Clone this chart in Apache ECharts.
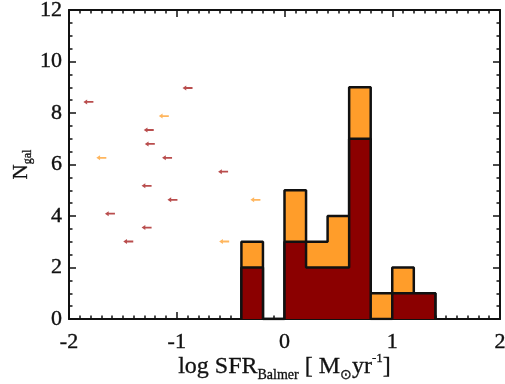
<!DOCTYPE html>
<html><head><meta charset="utf-8">
<script src="https://cdn.jsdelivr.net/npm/echarts@6/dist/echarts.min.js"></script>
<style>html,body{margin:0;padding:0;background:#fff}#c{width:505px;height:384px}</style>
</head><body><div id="c"></div>
<script>
// Histogram bins (left edges, width 0.2 dex)
const binLeft   = [-0.4, -0.2, 0.0, 0.2, 0.4, 0.6, 0.8, 1.0, 1.2];
const binRight  = 1.4;
const totalCounts = [3, 0, 5, 3, 4, 9, 1, 2, 1];
const darkCounts  = [2, 0, 3, 2, 2, 7, 0, 1, 1];
// Upper limit arrows (log SFR, N position)
const limDarkX = [-0.90, -1.82, -1.26, -1.25, -1.09, -0.57, -1.28, -1.04, -1.62, -1.28, -1.45];
const limDarkY = [8.97, 8.43, 7.34, 6.80, 6.26, 5.72, 5.17, 4.63, 4.09, 3.55, 3.01];
const limOrX = [-1.12, -1.70, -0.27, -0.56];
const limOrY = [7.88, 6.26, 4.63, 3.01];
const xTicks = [-2, -1, 0, 1, 2];
const yTicks = [0, 2, 4, 6, 8, 10, 12];

const DARK = '#8b0000', ORANGE = '#ff9d2a';
function stepData(counts){
  const pts = [[binLeft[0], 0]];
  for (let i = 0; i < binLeft.length; i++) pts.push([binLeft[i], counts[i]]);
  pts.push([binRight, 0]);
  return pts;
}
const arrowPath = 'path://M0,5 L6,0 L6,3.2 L16,3.2 L16,6.8 L6,6.8 L6,10 Z';
const font = 'Liberation Serif';
const TXT = '#111';
const tickLbl = {fontFamily: font, fontSize: 22, color: TXT, textBorderColor: TXT, textBorderWidth: 0.4};
const axisLine = {show: true, onZero: false, lineStyle: {color: '#111', width: 2}};
const axisTick = {show: true, inside: true, length: 7, lineStyle: {color: '#111', width: 1.5}};
const minor = n => ({show: true, splitNumber: n, length: 3.5, lineStyle: {color: '#111', width: 1.5}});
const chart = echarts.init(document.getElementById('c'));
chart.setOption({
  animation: false,
  grid: {left: 69, right: 5, top: 10, bottom: 65, outerBoundsMode: 'none', containLabel: false},
  xAxis: [
    {type: 'value', min: xTicks[0], max: xTicks[xTicks.length-1], interval: 1, position: 'bottom',
      axisLine, axisTick, minorTick: minor(10), splitLine: {show: false},
      axisLabel: Object.assign({margin: 12}, tickLbl),
      name: 'log SFR{sub|Balmer} [ M{sub|⊙}yr{sup|-1}]',
      nameLocation: 'middle', nameGap: 48, nameMoveOverlap: false,
      nameTextStyle: {fontFamily: font, fontSize: 24, color: TXT, textBorderColor: TXT, textBorderWidth: 0.3,
        lineHeight: 30, verticalAlign: 'middle',
        rich: {sub: {fontFamily: font, fontSize: 14, color: TXT, verticalAlign: 'bottom', lineHeight: 16},
               sup: {fontFamily: font, fontSize: 13, color: TXT, verticalAlign: 'top', lineHeight: 22}}}
    },
    {type: 'value', show: true, min: xTicks[0], max: xTicks[xTicks.length-1], interval: 1, position: 'top',
      axisLine, axisTick, minorTick: minor(10), splitLine: {show: false}, axisLabel: {show: false}}
  ],
  yAxis: [
    {type: 'value', min: yTicks[0], max: yTicks[yTicks.length-1], interval: 2, position: 'left',
      axisLine, axisTick, minorTick: minor(4), splitLine: {show: false},
      axisLabel: Object.assign({margin: 7}, tickLbl),
      name: 'N{sub|gal}', nameLocation: 'middle', nameGap: 48, nameMoveOverlap: false,
      nameTextStyle: {fontFamily: font, fontSize: 21, color: TXT, textBorderColor: TXT, textBorderWidth: 0.3,
        lineHeight: 26, verticalAlign: 'middle',
        rich: {sub: {fontFamily: font, fontSize: 12, color: TXT, verticalAlign: 'bottom', lineHeight: 12}}}
    },
    {type: 'value', show: true, min: yTicks[0], max: yTicks[yTicks.length-1], interval: 2, position: 'right',
      axisLine, axisTick, minorTick: minor(4), splitLine: {show: false}, axisLabel: {show: false}}
  ],
  series: [
    {type: 'line', step: 'end', symbol: 'none', data: stepData(totalCounts), z: 2, xAxisIndex: 0, yAxisIndex: 0,
     lineStyle: {color: '#111', width: 2.5}, areaStyle: {color: ORANGE, opacity: 1}},
    {type: 'line', step: 'end', symbol: 'none', data: stepData(darkCounts), z: 3, xAxisIndex: 0, yAxisIndex: 0,
     lineStyle: {color: '#111', width: 2.5}, areaStyle: {color: DARK, opacity: 1}},
    {type: 'scatter', symbol: arrowPath, symbolSize: [10, 5], z: 4, xAxisIndex: 0, yAxisIndex: 0,
     itemStyle: {color: '#a82020'}, data: limDarkX.map((x, i) => [x, limDarkY[i]])},
    {type: 'scatter', symbol: arrowPath, symbolSize: [10, 5], z: 4, xAxisIndex: 0, yAxisIndex: 0,
     itemStyle: {color: '#ffa436'}, data: limOrX.map((x, i) => [x, limOrY[i]])},
    {type: 'scatter', data: [], xAxisIndex: 1, yAxisIndex: 1}
  ]
});
</script></body></html>
